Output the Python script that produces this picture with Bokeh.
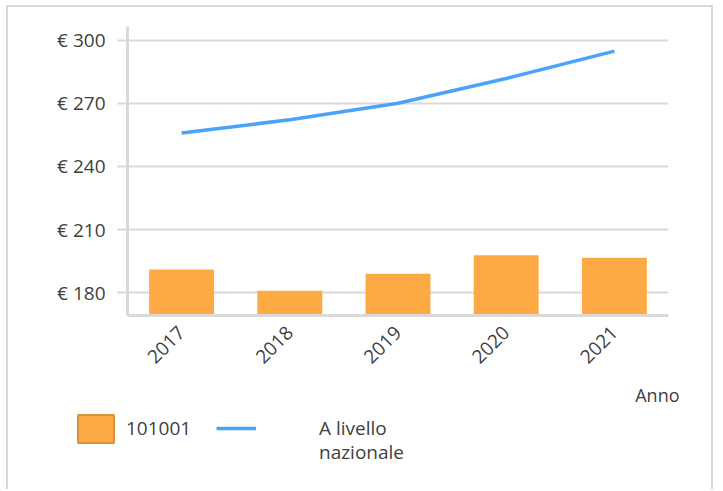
from bokeh.plotting import figure
from bokeh.models import (Range1d, FixedTicker, PrintfTickFormatter, Legend, LegendItem, Title,
                          ColumnDataSource)
from bokeh.embed import file_html
from bokeh.resources import INLINE
import math

years = ["2017", "2018", "2019", "2020", "2021"]
local_values = [191.1, 181.0, 189.0, 197.8, 196.6]
national_values = [255.9, 262.2, 270.0, 281.8, 294.8]
y_ticks = [180, 210, 240, 270, 300]
bar_label = "101001"
line_label_lines = ["A livello", "nazionale"]
x_title = "Anno"

FONT = "Open Sans"
TXT = "#404040"
GRID = "#d9d9d9"
BAR = "#fdaa44"
BAR_EDGE = "#d9913a"
LINE = "#4aa3f7"
W = 707

p = figure(x_range=years, y_range=Range1d(169.2, 306.5),
           width=W, height=408, output_backend="svg", toolbar_location=None,
           min_border_left=119, min_border_right=47, min_border_top=19, min_border_bottom=100)
p.styles = {"border-style": "solid solid none solid", "border-width": "2px",
            "border-color": GRID, "margin-left": "6px", "margin-top": "5px"}
p.outline_line_color = None

bars = p.vbar(x=years, top=local_values, width=0.6, color=BAR, line_color=None)
ln = p.line(x=years, y=national_values, line_width=3.5, color=LINE)

p.xgrid.grid_line_color = None
p.ygrid.grid_line_color = GRID
p.ygrid.grid_line_width = 2

p.yaxis.ticker = FixedTicker(ticks=y_ticks)
p.yaxis.formatter = PrintfTickFormatter(format="€ %d")
p.yaxis.axis_line_color = GRID
p.yaxis.axis_line_width = 3
p.yaxis.major_tick_line_color = GRID
p.yaxis.major_tick_line_width = 2
p.yaxis.major_tick_out = 10
p.yaxis.major_tick_in = 0
p.yaxis.minor_tick_line_color = None
p.yaxis.major_label_standoff = 12

p.xaxis.axis_line_color = GRID
p.xaxis.axis_line_width = 3
p.xaxis.major_tick_line_color = None
p.xaxis.major_tick_out = 0
p.xaxis.major_label_orientation = math.pi / 4
p.xaxis.major_label_standoff = 14

for ax in (p.xaxis[0], p.yaxis[0]):
    ax.major_label_text_font = FONT
    ax.major_label_text_font_size = "19px"
    ax.major_label_text_color = TXT

t = Title(text=x_title, align="right", text_font=FONT, text_font_size="18px",
          text_color=TXT, text_font_style="normal", offset=-11, standoff=16)
p.add_layout(t, "below")

# legend strip below the chart (separate root, so its frame is not aligned to the chart's)
lp = figure(width=W, height=76, x_range=Range1d(0, 1), y_range=Range1d(0, 1),
            output_backend="svg", toolbar_location=None,
            x_axis_type=None, y_axis_type=None,
            min_border_left=0, min_border_right=0, min_border_top=0, min_border_bottom=0)
lp.styles = {"border-style": "none solid none solid", "border-width": "2px",
             "border-color": GRID, "margin-left": "6px"}
lp.outline_line_color = None
lp.xgrid.visible = False
lp.ygrid.visible = False
# legend-key renderers: their points lie outside the visible range
key_bar = ColumnDataSource(data=dict(x=[-5], y=[-5]))
key_line = ColumnDataSource(data=dict(x=[-5, -4], y=[-5, -5]))
lbar = lp.vbar(x="x", top="y", source=key_bar, width=0.1, fill_color=BAR,
               line_color=BAR_EDGE, line_width=2)
lline = lp.line(x="x", y="y", source=key_line, line_width=3.5, color=LINE)
lblank = lp.line(x="x", y="y", source=key_line, line_alpha=0)

common = dict(padding=0, margin=0, border_line_alpha=0, background_fill_alpha=0,
              label_text_font=FONT, label_text_font_size="19px", label_text_color=TXT,
              orientation="horizontal")
lg1 = Legend(items=[LegendItem(label=bar_label, renderers=[lbar])],
             location=(65, 43.5), glyph_width=45, glyph_height=35, label_standoff=8, **common)
lg2 = Legend(items=[LegendItem(label=line_label_lines[0], renderers=[lline])],
             location=(208, 48), glyph_width=40, glyph_height=14, label_standoff=63, **common)
lg3 = Legend(items=[LegendItem(label=line_label_lines[1], renderers=[lblank])],
             location=(208, 24), glyph_width=40, glyph_height=14, label_standoff=63, **common)
for lg in (lg1, lg2, lg3):
    lp.add_layout(lg, "center")

open("out.html", "w").write(file_html([p, lp], INLINE))
